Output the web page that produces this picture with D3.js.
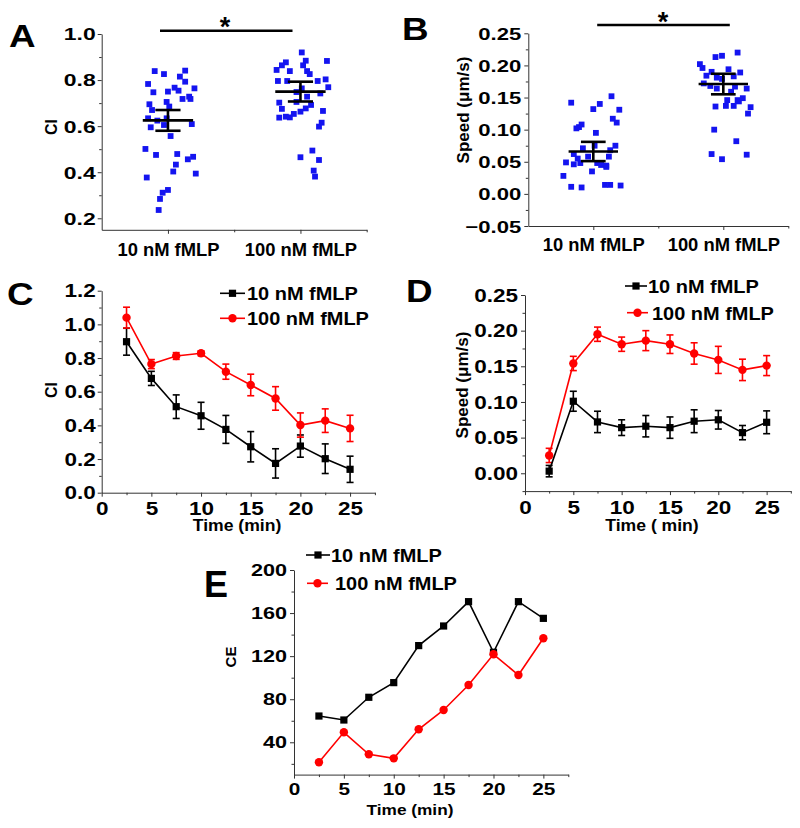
<!DOCTYPE html>
<html><head><meta charset="utf-8">
<script src="https://cdn.jsdelivr.net/npm/d3@7"></script>
<style>
body{margin:0;background:#fff}
svg{display:block}
text{font-family:"Liberation Sans",Arial,sans-serif;font-weight:bold;fill:#000}
</style></head>
<body><svg width="800" height="828"></svg>
<script>
// ---------- DATA ----------
const groups = ["10 nM fMLP", "100 nM fMLP"];
const times = [2.5, 5, 7.5, 10, 12.5, 15, 17.5, 20, 22.5, 25];

// Panel A: CI per cell
const ciLow = [0.839,0.826,0.841,0.783,0.815,0.793,0.764,0.747,0.750,0.767,0.754,0.728,0.718,0.705,0.695,0.685,0.670,0.718,0.634,0.624,0.595,0.605,0.634,0.609,0.557,0.501,0.475,0.479,0.467,0.456,0.433,0.403,0.394,0.377,0.323,0.311,0.284,0.236];
const ciLowJitter = [-0.10,-0.03,0.13,-0.15,0.09,0.13,0.20,-0.11,0.00,0.05,0.08,0.16,0.11,-0.01,-0.14,0.01,-0.12,0.17,-0.15,-0.08,-0.13,-0.03,-0.01,0.18,0.02,-0.17,-0.09,0.07,0.19,0.15,0.06,0.04,0.21,-0.16,0.00,-0.04,-0.06,-0.07];
const ciHigh = [0.920,0.883,0.884,0.877,0.864,0.864,0.844,0.839,0.839,0.826,0.803,0.796,0.796,0.796,0.769,0.764,0.748,0.742,0.728,0.702,0.705,0.692,0.677,0.675,0.666,0.663,0.653,0.641,0.638,0.637,0.615,0.598,0.494,0.465,0.453,0.407,0.381];
const ciHighJitter = [0.01,0.20,0.04,-0.11,-0.14,0.02,-0.18,-0.08,0.05,0.07,0.19,-0.17,-0.10,0.13,0.21,0.01,-0.03,0.15,0.05,-0.16,-0.03,0.08,0.04,-0.14,0.17,0.00,-0.05,-0.11,-0.08,-0.16,0.16,0.14,0.09,0.00,0.14,0.10,0.11];
const ciMean = [0.625, 0.750];
const ciSem = [0.045, 0.043];

// Panel B: speed per cell (µm/s)
const spLow = [0.142,0.152,0.132,0.140,0.131,0.117,0.111,0.104,0.108,0.102,0.095,0.075,0.075,0.071,0.062,0.055,0.048,0.049,0.046,0.058,0.048,0.045,0.044,0.068,0.058,0.042,0.035,0.028,0.011,0.010,0.014,0.014,0.013];
const spLowJitter = [-0.17,0.14,0.00,0.05,0.20,0.15,0.18,-0.11,-0.09,-0.13,0.02,0.01,0.17,-0.08,-0.15,-0.12,-0.10,-0.21,-0.15,-0.04,0.03,0.06,0.10,0.13,0.12,0.10,-0.01,-0.23,-0.17,-0.09,0.09,0.13,0.21];
const spHigh = [0.220,0.213,0.215,0.202,0.196,0.190,0.194,0.189,0.184,0.181,0.179,0.183,0.172,0.168,0.164,0.167,0.164,0.159,0.149,0.146,0.146,0.137,0.136,0.137,0.135,0.125,0.144,0.100,0.082,0.062,0.054,0.061];
const spHighJitter = [0.11,-0.06,-0.01,-0.18,-0.16,-0.09,0.04,0.13,-0.13,-0.05,-0.01,0.08,-0.15,-0.10,-0.05,0.09,0.18,0.06,0.15,0.11,0.03,0.02,-0.06,0.08,0.21,0.19,0.12,-0.07,0.10,-0.09,-0.01,0.18];
const spMean = [0.066, 0.171];
const spSem = [0.015, 0.016];

// Panel C: CI over time
const ciT10 = [0.897,0.679,0.511,0.457,0.376,0.273,0.174,0.277,0.202,0.139];
const ciT10Err = [0.080,0.042,0.070,0.080,0.083,0.090,0.087,0.066,0.088,0.078];
const ciT100 = [1.040,0.764,0.812,0.828,0.719,0.640,0.560,0.402,0.428,0.382];
const ciT100Err = [0.062,0.027,0.020,0.014,0.045,0.064,0.070,0.072,0.070,0.078];

// Panel D: speed over time
const spT10 = [0.003,0.101,0.072,0.064,0.066,0.064,0.073,0.075,0.057,0.0715];
const spT10Err = [0.008,0.014,0.015,0.011,0.015,0.015,0.016,0.013,0.010,0.016];
const spT100 = [0.025,0.154,0.195,0.181,0.186,0.181,0.168,0.159,0.145,0.151];
const spT100Err = [0.010,0.010,0.010,0.010,0.014,0.013,0.015,0.019,0.015,0.014];

// Panel E: CE over time
const ce10 = [64.4,60.7,81.8,95.4,129.8,148,170.6,123.6,170.6,155.1];
const ce100 = [21.4,49.3,28.9,25.1,52.1,70,93.2,121.7,102.5,136.6];

// ---------- DRAWING ----------
const svg = d3.select("svg");
const BLUE = "#1414f0", RED = "#ff0000", AX = "#333";

function txt(x, y, s, o) {
  let tr = `translate(${x},${y})`;
  if (o.sx && o.sx !== 1) tr += ` scale(${o.sx},1)`;
  if (o.rot) tr += ` rotate(${o.rot})`;
  return svg.append("text").attr("transform", tr)
    .attr("text-anchor", o.anchor || "middle")
    .attr("dominant-baseline", o.base || "central")
    .style("font-size", o.size + "px")
    .style("fill", o.fill || "#000")
    .text(s);
}

function styleAxis(g) {
  g.selectAll("path,line").attr("stroke", AX).attr("stroke-width", 1);
}

function leftAxis(scale, x, major, minor, fmt, o) {
  const g = svg.append("g").attr("transform", `translate(${x},0)`)
    .call(d3.axisLeft(scale).tickValues(major).tickFormat(fmt).tickSize(4).tickSizeOuter(0));
  styleAxis(g);
  g.selectAll(".tick text").attr("x", 0).attr("dy", null).attr("dominant-baseline", "central")
    .attr("transform", `translate(${-o.off},0) scale(${o.sx},1)`)
    .style("font-size", o.size + "px").style("font-family", '"Liberation Sans",Arial,sans-serif')
    .style("font-weight", "bold").style("fill", "#000");
  if (minor) {
    const m = svg.append("g").attr("transform", `translate(${x},0)`)
      .call(d3.axisLeft(scale).tickValues(minor).tickFormat("").tickSize(2.5).tickSizeOuter(0));
    m.select(".domain").remove(); styleAxis(m);
  }
}

function bottomAxis(scale, y, major, minor, fmt, o) {
  const g = svg.append("g").attr("transform", `translate(0,${y})`)
    .call(d3.axisBottom(scale).tickValues(major).tickFormat(fmt).tickSize(4).tickSizeOuter(0));
  styleAxis(g);
  g.selectAll(".tick text").attr("y", 0).attr("dy", null).attr("dominant-baseline", "central")
    .attr("transform", `translate(0,${o.off}) scale(${o.sx},1)`)
    .style("font-size", o.size + "px").style("font-family", '"Liberation Sans",Arial,sans-serif')
    .style("font-weight", "bold").style("fill", "#000");
  if (minor) {
    const m = svg.append("g").attr("transform", `translate(0,${y})`)
      .call(d3.axisBottom(scale).tickValues(minor).tickFormat("").tickSize(2.5).tickSizeOuter(0));
    m.select(".domain").remove(); styleAxis(m);
  }
}

function scatterPanel(x, y, low, lowJ, high, highJ, mean, sem) {
  const pts = d3.zip(lowJ.map(j => 1 + j), low).concat(d3.zip(highJ.map(j => 2 + j), high));
  svg.append("g").selectAll("rect").data(pts).join("rect")
    .attr("x", d => x(d[0]) - 2.9).attr("y", d => y(d[1]) - 2.9)
    .attr("width", 5.8).attr("height", 5.8).attr("fill", BLUE);
  const g = svg.append("g").attr("stroke", "#000").attr("stroke-width", 2.6);
  mean.forEach((m, i) => {
    const c = i + 1;
    g.append("line").attr("x1", x(c - 0.19)).attr("x2", x(c + 0.19)).attr("y1", y(m)).attr("y2", y(m));
    g.append("line").attr("x1", x(c)).attr("x2", x(c)).attr("y1", y(m - sem[i])).attr("y2", y(m + sem[i]));
    [m - sem[i], m + sem[i]].forEach(v =>
      g.append("line").attr("x1", x(c - 0.095)).attr("x2", x(c + 0.095)).attr("y1", y(v)).attr("y2", y(v)));
  });
}

function series(x, y, vals, errs, color, shape) {
  const g = svg.append("g");
  const d = d3.zip(times, vals, errs || vals.map(() => 0));
  g.append("path").datum(d).attr("fill", "none").attr("stroke", color).attr("stroke-width", 1.6)
    .attr("d", d3.line().x(p => x(p[0])).y(p => y(p[1])));
  if (errs) {
    const e = g.append("g").attr("stroke", color).attr("stroke-width", 1.6);
    d.forEach(p => {
      e.append("line").attr("x1", x(p[0])).attr("x2", x(p[0])).attr("y1", y(p[1] - p[2])).attr("y2", y(p[1] + p[2]));
      [p[1] - p[2], p[1] + p[2]].forEach(v =>
        e.append("line").attr("x1", x(p[0]) - 3.5).attr("x2", x(p[0]) + 3.5).attr("y1", y(v)).attr("y2", y(v)));
    });
  }
  marker(g, d.map(p => [x(p[0]), y(p[1])]), color, shape);
}

function marker(g, pts, color, shape) {
  if (shape === "square")
    g.selectAll("rect.m").data(pts).join("rect").attr("class", "m")
      .attr("x", p => p[0] - 3.6).attr("y", p => p[1] - 3.6).attr("width", 7.2).attr("height", 7.2).attr("fill", color);
  else
    g.selectAll("circle.m").data(pts).join("circle").attr("class", "m")
      .attr("cx", p => p[0]).attr("cy", p => p[1]).attr("r", 4.2).attr("fill", color);
}

function legend(x1, x2, y, label, color, shape, tx, size) {
  const g = svg.append("g");
  g.append("line").attr("x1", x1).attr("x2", x2).attr("y1", y).attr("y2", y).attr("stroke", color).attr("stroke-width", 1.6);
  marker(g, [[(x1 + x2) / 2, y]], color, shape);
  txt(tx, y, label, {size: size, anchor: "start", sx: 1.05});
}

// ----- Panel A -----
{
  const x = d3.scaleLinear([0.5, 2.5], [101.7, 366.7]);
  const y = d3.scaleLinear([0.15, 1.0], [229.8, 34]);
  leftAxis(y, 101.7, [0.2, 0.4, 0.6, 0.8, 1.0], [0.3, 0.5, 0.7, 0.9], d3.format(".1f"), {off: 6, sx: 1.35, size: 17});
  bottomAxis(x, 229.8, [1, 2], [1.5, 2.5], i => groups[i - 1], {off: 20, sx: 1.05, size: 17.5});
  scatterPanel(x, y, ciLow, ciLowJitter, ciHigh, ciHighJitter, ciMean, ciSem);
  svg.append("line").attr("x1", x(0.94)).attr("x2", x(1.94)).attr("y1", 30.7).attr("y2", 30.7).attr("stroke", "#000").attr("stroke-width", 2.6);
  txt(225, 35.5, "*", {size: 27, base: "alphabetic"});
  txt(51, 127, "CI", {size: 16, rot: -90});
  txt(9, 47, "A", {size: 32, anchor: "start", base: "alphabetic", sx: 1.15});
}

// ----- Panel B -----
{
  const x = d3.scaleLinear([0.5, 2.5], [528.3, 788.3]);
  const y = d3.scaleLinear([-0.05, 0.25], [226, 33.3]);
  leftAxis(y, 528.3, [-0.05, 0, 0.05, 0.10, 0.15, 0.20, 0.25], [-0.025, 0.025, 0.075, 0.125, 0.175, 0.225], d3.format(".2f"), {off: 7, sx: 1.3, size: 17});
  bottomAxis(x, 226, [1, 2], [1.5, 2.5], i => groups[i - 1], {off: 19, sx: 1.05, size: 17.5});
  scatterPanel(x, y, spLow, spLowJitter, spHigh, spHighJitter, spMean, spSem);
  svg.append("line").attr("x1", x(1.03)).attr("x2", x(2.05)).attr("y1", 25).attr("y2", 25).attr("stroke", "#000").attr("stroke-width", 2.6);
  txt(663, 30.5, "*", {size: 27, base: "alphabetic"});
  txt(463, 110, "Speed (μm/s)", {size: 17, rot: -90});
  txt(402, 40, "B", {size: 32, anchor: "start", base: "alphabetic", sx: 1.15});
}

// ----- Panel C -----
{
  const x = d3.scaleLinear([0, 27.5], [101.7, 374.9]);
  const y = d3.scaleLinear([0, 1.2], [492.7, 290.7]);
  leftAxis(y, 101.7, [0, 0.2, 0.4, 0.6, 0.8, 1.0, 1.2], [0.1, 0.3, 0.5, 0.7, 0.9, 1.1], d3.format(".1f"), {off: 6, sx: 1.25, size: 18});
  bottomAxis(x, 492.7, [0, 5, 10, 15, 20, 25], [2.5, 7.5, 12.5, 17.5, 22.5, 27.5], d3.format("d"), {off: 16, sx: 1.25, size: 18});
  series(x, y, ciT10, ciT10Err, "#000", "square");
  series(x, y, ciT100, ciT100Err, RED, "circle");
  legend(220, 245, 293.3, groups[0], "#000", "square", 247, 19);
  legend(220, 245, 318.3, groups[1], RED, "circle", 247, 19);
  txt(237, 526, "Time (min)", {size: 16, sx: 1.1});
  txt(51, 390, "CI", {size: 16, rot: -90});
  txt(7, 305, "C", {size: 32, anchor: "start", base: "alphabetic", sx: 1.15});
}

// ----- Panel D -----
{
  const x = d3.scaleLinear([0, 27.5], [525, 790.8]);
  const y = d3.scaleLinear([-0.025, 0.25], [491.1, 295]);
  leftAxis(y, 525, [0, 0.05, 0.10, 0.15, 0.20, 0.25], [-0.025, 0.025, 0.075, 0.125, 0.175, 0.225], d3.format(".2f"), {off: 7, sx: 1.25, size: 18});
  bottomAxis(x, 491.1, [0, 5, 10, 15, 20, 25], [2.5, 7.5, 12.5, 17.5, 22.5, 27.5], d3.format("d"), {off: 17, sx: 1.25, size: 18});
  series(x, y, spT100, spT100Err, RED, "circle");
  series(x, y, spT10, spT10Err, "#000", "square");
  legend(625, 647, 286, groups[0], "#000", "square", 648, 19);
  legend(627, 648, 312.7, groups[1], RED, "circle", 652, 19);
  txt(652, 526, "Time ( min)", {size: 16, sx: 1.1});
  txt(462, 385, "Speed (μm/s)", {size: 17, rot: -90});
  txt(406, 302, "D", {size: 32, anchor: "start", base: "alphabetic", sx: 1.15});
}

// ----- Panel E -----
{
  const x = d3.scaleLinear([0, 27.5], [294, 568.3]);
  const y = d3.scaleLinear([10, 200], [774.6, 570]);
  leftAxis(y, 294, [40, 80, 120, 160, 200], [20, 60, 100, 140, 180], d3.format("d"), {off: 7, sx: 1.35, size: 16});
  bottomAxis(x, 774.6, [0, 5, 10, 15, 20, 25], [2.5, 7.5, 12.5, 17.5, 22.5, 27.5], d3.format("d"), {off: 15, sx: 1.3, size: 16});
  series(x, y, ce10, null, "#000", "square");
  series(x, y, ce100, null, RED, "circle");
  legend(306, 330, 555, groups[0], "#000", "square", 331, 19);
  legend(307, 328, 583.3, groups[1], RED, "circle", 335, 19);
  txt(410, 809, "Time (min)", {size: 15, sx: 1.15});
  txt(230, 657, "CE", {size: 15, rot: -90});
  txt(204, 597, "E", {size: 36, anchor: "start", base: "alphabetic", sx: 1.0});
}
</script></body></html>
